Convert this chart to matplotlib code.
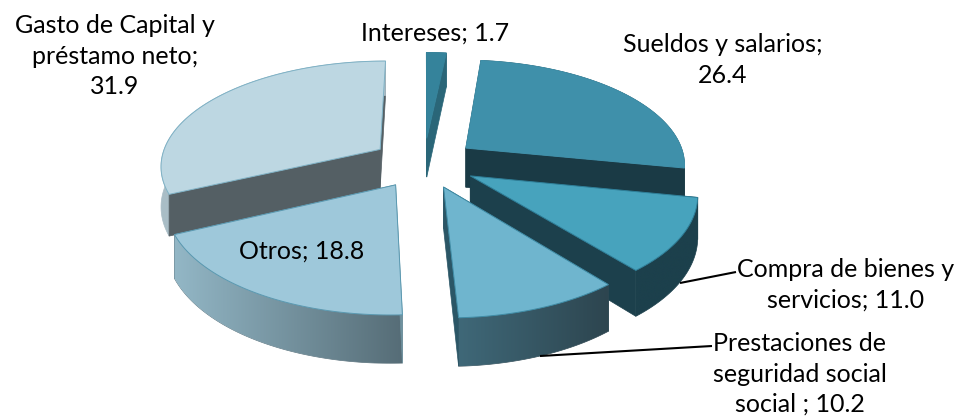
import matplotlib
matplotlib.use("Agg")
import matplotlib.pyplot as plt
from matplotlib.colors import LinearSegmentedColormap
from matplotlib.patches import Polygon
import numpy as np

# Data
names = ["Intereses", "Sueldos y salarios", "Compra de bienes y\nservicios",
         "Prestaciones de\nseguridad social\nsocial ", "Otros", "Gasto de Capital y\npréstamo neto"]
values = [1.7, 26.4, 11.0, 10.2, 18.8, 31.9]
seps = ["; ", ";\n", "; ", "; ", "; ", ";\n"]

top_colors = ["#35839B", "#3F90AA", "#47A3BD", "#6FB5CE", "#9EC8DA", "#BDD7E2"]
cut_colors = ["#2A6678", "#1A3A45", "#1C404C", "#2B5666", "#6F929F", "#545F64"]
wall_left = ["#2A6678", "#1A3A45", "#1C404C", "#3F6878", "#93B7C6", "#A9BDC6"]
wall_right = ["#2A6678", "#1A3A45", "#1C404C", "#2D454F", "#566D77", "#A9BDC6"]
edge_colors = ["#35839B", "#3F90AA", "#2F7F99", "#3F8CA6", "#5B9AB2", "#7FB2C6"]

label_pos = [(435, 33), (723, 60), (846, 285), (800, 374), (302, 251), (115, 56)]
leaders = [((680, 283), (736, 272)), ((540, 356), (712, 346))]

# Projection of the 3D pie
vx, cy = 424, 162.7
radius, explode, tilt, depth, persp = 220, 53, 0.475, 40, 0.00065


def project(x, y, z=0):
    s = 1 / (1 + persp * y)
    return vx + s * x, cy - s * y * tilt + s * z


fig = plt.figure(figsize=(9.58, 4.17), dpi=100)
ax = fig.add_axes([0, 0, 1, 1])
ax.axis("off")

edges = np.cumsum([0] + values) / sum(values) * 2 * np.pi
mids = (edges[:-1] + edges[1:]) / 2

# back slices first
for i in np.argsort(-np.cos(mids)):
    ox, oy = explode * np.sin(mids[i]), explode * np.cos(mids[i])
    th = np.linspace(edges[i], edges[i + 1], 80)
    rx = ox + radius * np.sin(th)
    ry = oy + radius * np.cos(th)

    # the two cut faces, the one further back first
    cuts = []
    for j in (0, -1):
        xs, ys = np.array([ox, rx[j]]), np.array([oy, ry[j]])
        tx, ty = project(xs, ys)
        bx, by = project(xs, ys, depth)
        cuts.append((ys.mean(), np.r_[np.c_[tx, ty], np.c_[bx, by][::-1]]))
    cuts.sort(key=lambda c: -c[0])

    ax.add_patch(Polygon(cuts[0][1], facecolor=cut_colors[i], edgecolor=cut_colors[i], linewidth=0.5))

    # outer wall with a horizontal gradient
    tx, ty = project(rx, ry)
    bx, by = project(rx, ry, depth)
    wall = Polygon(np.r_[np.c_[tx, ty], np.c_[bx, by][::-1]], facecolor="none",
                   edgecolor=wall_right[i], linewidth=0.5)
    ax.add_patch(wall)
    cmap = LinearSegmentedColormap.from_list("wall", [wall_left[i], wall_right[i]])
    im = ax.imshow(np.linspace(0, 1, 256)[None, :], cmap=cmap, aspect="auto", zorder=1,
                   extent=(tx.min(), tx.max(), by.max(), ty.min()), interpolation="bilinear")
    im.set_clip_path(wall)

    ax.add_patch(Polygon(cuts[1][1], facecolor=cut_colors[i], edgecolor=cut_colors[i], linewidth=0.5))

    # top surface
    px, py = project(np.r_[ox, rx], np.r_[oy, ry])
    ax.add_patch(Polygon(np.c_[px, py], facecolor=top_colors[i], edgecolor=edge_colors[i], linewidth=0.7))

ax.set_xlim(0, 958)
ax.set_ylim(417, 0)

for a, b in leaders:
    ax.plot([a[0], b[0]], [a[1], b[1]], color="black", linewidth=1.5, solid_capstyle="butt")

for name, val, sep, (x, y) in zip(names, values, seps, label_pos):
    ax.text(x, y, f"{name}{sep}{val:.1f}", ha="center", va="center", fontsize=18,
            family=["Lato", "DejaVu Sans"], color="black", linespacing=1.37)

fig.savefig("out.png", dpi=100)
